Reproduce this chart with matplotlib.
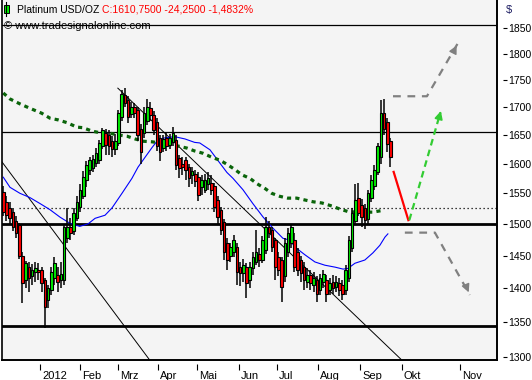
import matplotlib
matplotlib.use("Agg")
import matplotlib.pyplot as plt
from matplotlib.patches import Rectangle
from matplotlib.ticker import FixedLocator, FixedFormatter, NullLocator
import matplotlib.transforms as mtransforms

plt.rcParams['font.family'] = ['Liberation Sans', 'DejaVu Sans']

# daily candles, open/high/low/close
opens = [1553, 1535, 1525, 1520, 1505, 1498, 1450, 1412, 1432, 1418,
         1425, 1428, 1428, 1412, 1382, 1398, 1415, 1420, 1412, 1412,
         1478, 1495, 1488, 1510, 1528, 1545, 1572, 1590, 1592, 1602,
         1606, 1630, 1654, 1650, 1640, 1625, 1636, 1682, 1722, 1713,
         1688, 1700, 1695, 1660, 1654, 1675, 1698, 1686, 1673, 1645,
         1628, 1645, 1632, 1638, 1641, 1610, 1600, 1606, 1595, 1580,
         1582, 1578, 1560, 1556, 1565, 1568, 1563, 1539, 1523, 1503,
         1470, 1450, 1455, 1464, 1432, 1423, 1432, 1412, 1430, 1440,
         1452, 1443, 1459, 1495, 1490, 1474, 1448, 1443, 1418, 1455,
         1470, 1474, 1455, 1443, 1432, 1410, 1420, 1405, 1412, 1397,
         1410, 1412, 1397, 1410, 1402, 1408, 1405, 1397, 1415, 1462,
         1505, 1542, 1530, 1525, 1508, 1542, 1562, 1586, 1611, 1690,
         1673, 1640]
highs = [1562, 1545, 1535, 1525, 1512, 1502, 1455, 1442, 1440, 1437,
         1440, 1438, 1432, 1416, 1405, 1432, 1448, 1432, 1440, 1500,
         1525, 1510, 1525, 1545, 1565, 1588, 1605, 1612, 1615, 1628,
         1641, 1662, 1660, 1658, 1648, 1652, 1695, 1731, 1735, 1720,
         1710, 1708, 1700, 1670, 1700, 1715, 1710, 1693, 1680, 1650,
         1650, 1655, 1652, 1665, 1650, 1615, 1612, 1612, 1600, 1595,
         1590, 1585, 1580, 1582, 1585, 1580, 1568, 1545, 1528, 1508,
         1478, 1470, 1482, 1470, 1440, 1445, 1438, 1440, 1455, 1490,
         1462, 1480, 1511, 1505, 1495, 1478, 1455, 1448, 1478, 1493,
         1500, 1485, 1462, 1450, 1440, 1430, 1428, 1425, 1418, 1422,
         1428, 1420, 1415, 1420, 1418, 1415, 1412, 1435, 1480, 1525,
         1565, 1567, 1540, 1532, 1556, 1580, 1597, 1636, 1713, 1715,
         1680, 1645]
lows = [1512, 1505, 1500, 1488, 1478, 1445, 1378, 1400, 1395, 1405,
        1410, 1412, 1395, 1341, 1370, 1390, 1405, 1395, 1400, 1405,
        1470, 1475, 1482, 1505, 1520, 1540, 1560, 1580, 1585, 1595,
        1600, 1625, 1615, 1615, 1612, 1615, 1630, 1675, 1700, 1671,
        1680, 1680, 1640, 1600, 1645, 1668, 1675, 1650, 1622, 1605,
        1620, 1622, 1625, 1630, 1589, 1575, 1580, 1572, 1560, 1565,
        1560, 1538, 1548, 1550, 1555, 1548, 1520, 1500, 1482, 1443,
        1428, 1440, 1448, 1405, 1403, 1410, 1385, 1400, 1420, 1435,
        1432, 1438, 1452, 1478, 1455, 1412, 1418, 1379, 1410, 1448,
        1462, 1425, 1418, 1410, 1397, 1400, 1398, 1395, 1379, 1390,
        1400, 1379, 1390, 1392, 1395, 1388, 1382, 1390, 1410, 1455,
        1500, 1512, 1495, 1492, 1500, 1535, 1556, 1580, 1600, 1650,
        1620, 1595]
closes = [1520, 1515, 1510, 1495, 1485, 1450, 1408, 1438, 1415, 1428,
          1430, 1425, 1408, 1372, 1400, 1425, 1438, 1410, 1422, 1495,
          1495, 1485, 1518, 1535, 1556, 1577, 1597, 1606, 1608, 1618,
          1636, 1659, 1632, 1630, 1625, 1640, 1690, 1725, 1708, 1682,
          1700, 1690, 1650, 1620, 1690, 1700, 1685, 1659, 1630, 1620,
          1643, 1630, 1645, 1654, 1597, 1592, 1595, 1589, 1575, 1588,
          1570, 1547, 1572, 1572, 1575, 1556, 1527, 1511, 1490, 1455,
          1443, 1464, 1474, 1424, 1423, 1435, 1408, 1432, 1448, 1455,
          1443, 1474, 1495, 1485, 1464, 1432, 1428, 1402, 1470, 1485,
          1495, 1432, 1428, 1423, 1412, 1420, 1408, 1415, 1392, 1416,
          1422, 1392, 1408, 1400, 1410, 1398, 1392, 1428, 1474, 1518,
          1539, 1518, 1511, 1506, 1550, 1572, 1589, 1630, 1690, 1660,
          1635, 1610.75]

# moving averages (bar index, price)
ma50_x = [0, 2.1, 5.2, 8.3, 11.5, 14.6, 17.7, 20.8, 23.9, 26.5, 28.7, 31.8,
          34.0, 37.1, 40.2, 42.1, 44.3, 46.5, 48.3, 50.5, 53.6, 56.8, 59.8,
          61.4, 64.6, 67.7, 69.9, 71.8, 74.9, 78.0, 81.2, 84.3, 87.4, 89.6,
          91.2, 94.3, 97.4, 100.5, 103.7, 106.2, 107.7, 109.9, 113.0, 115.5,
          117.7, 119.3, 120.2]
ma50_y = [1577, 1560, 1550, 1543, 1533, 1523, 1511, 1501, 1496, 1500, 1509,
          1514, 1526, 1550, 1575, 1594, 1611, 1628, 1641, 1645, 1647, 1643,
          1637, 1636, 1624, 1601, 1585, 1575, 1556, 1533, 1511, 1493, 1477,
          1474, 1463, 1451, 1440, 1435, 1432, 1429, 1430, 1438, 1443, 1454,
          1466, 1479, 1484]
ma200_x = [0, 2.1, 5.2, 8.3, 12.0, 14.6, 17.1, 19.9, 23.0, 24.9, 27.7, 30.2,
           32.7, 35.8, 38.6, 41.2, 43.7, 46.5, 48.9, 51.5, 54.3, 57.4, 59.8,
           62.4, 65.2, 67.7, 69.9, 72.4, 74.6, 77.1, 79.3, 81.8, 83.9, 86.4,
           88.9, 91.7, 94.2, 96.8, 99.6, 102.7, 105.2, 107.7, 110.5, 113.0,
           115.5, 118.7]
ma200_y = [1726, 1715, 1706, 1698, 1689, 1680, 1677, 1672, 1664, 1663, 1657,
           1654, 1654, 1650, 1648, 1643, 1639, 1638, 1636, 1634, 1631, 1627,
           1622, 1618, 1611, 1606, 1599, 1590, 1581, 1575, 1566, 1558, 1550,
           1545, 1542, 1542, 1539, 1536, 1534, 1529, 1524, 1520, 1519, 1519,
           1519, 1522]

# drawn lines
hlines_thin = [1857, 1655]
hlines_thick = [1500, 1345]
dotted_level = 1525
trend_a = ([-0.4, 45.8], [1603, 1296])
trend_b = ([35.8, 124.6], [1735, 1296])
red_leg = ([122, 126.6], [1586, 1506])
green_leg = ([126.9, 137.0], [1506, 1698])
gray_up = ([121.8, 132.4, 142.1], [1720, 1720, 1821])
gray_down = ([125.5, 134.9, 145.8], [1486, 1486, 1390])

month_pos = [11.5, 24.0, 35.8, 48.3, 60.5, 73.6, 85.5, 98.3, 111.5, 124.6, 142.7]
month_lbl = ['2012', 'Feb', 'Mrz', 'Apr', 'Mai', 'Jun', 'Jul', 'Aug', 'Sep', 'Okt', 'Nov']
price_ticks = list(range(1300, 1851, 50))

fig = plt.figure(figsize=(5.32, 3.80), dpi=100)
ax = fig.add_axes([2 / 532, 20 / 380, 495 / 532, 360 / 380])
ax.set_facecolor('#f4f4f4')
ax.set_yscale('log')
ax.set_xlim(-0.4, 154.3)
ax.set_ylim(1296.3, 1907)

for p in hlines_thin:
    ax.axhline(p, color='black', lw=0.9, zorder=1)
for p in hlines_thick:
    ax.axhline(p, color='black', lw=2.0, zorder=1)
ax.plot([5, 154.3], [dotted_level, dotted_level], color='black', lw=0.9,
        ls=(0, (1, 2.2)), zorder=1)
ax.plot(*trend_a, color='black', lw=0.7, zorder=1)
ax.plot(*trend_b, color='black', lw=0.7, zorder=1)

ax.plot(ma50_x, ma50_y, color='#0000ff', lw=0.8, zorder=2)
ax.plot(ma200_x, ma200_y, color='#0a640a', lw=2.3, ls=(0, (1.3, 1.3)),
        dash_capstyle='butt', zorder=2)

# candles
xs = list(range(len(closes)))
ax.vlines(xs, lows, highs, color='black', lw=1.1, zorder=3)
for i in xs:
    o, c = opens[i], closes[i]
    col = '#00ee00' if c >= o else '#ff0000'
    ax.add_patch(Rectangle((i - 0.42, min(o, c)), 0.84, abs(c - o),
                           facecolor=col, edgecolor='black', lw=0.8, zorder=4))

# projection
ax.plot(*red_leg, color='#ff0000', lw=1.6, zorder=5)
ax.plot(green_leg[0][:1] + [green_leg[0][1] - 0.4], green_leg[1][:1] + [green_leg[1][1] - 8],
        color='#33cc33', lw=1.6, ls=(0, (3, 2)), zorder=5)
ax.annotate('', xy=(green_leg[0][1], green_leg[1][1]),
            xytext=(green_leg[0][1] - 1.2, green_leg[1][1] - 25),
            arrowprops=dict(arrowstyle='-|>', color='#33cc33', lw=1.2,
                            mutation_scale=12), zorder=5)
for path in (gray_up, gray_down):
    ax.plot(path[0], path[1], color='#808080', lw=1.6, ls=(0, (3.5, 3)), zorder=5)
    ax.annotate('', xy=(path[0][2], path[1][2]),
                xytext=(path[0][2] - 1.5, path[1][2] - (path[1][2] - path[1][1]) * 0.18),
                arrowprops=dict(arrowstyle='-|>', color='#808080', lw=1.0,
                                mutation_scale=12), zorder=5)

# axes styling
for s in ('top', 'right', 'bottom'):
    ax.spines[s].set_visible(False)
ax.spines['left'].set_linewidth(1.2)
ax.spines['right'].set_position(('outward', 4))
ax.spines['bottom'].set_position(('outward', 3))
ax.plot([1, 1], [0, 1], transform=ax.transAxes, color='black', lw=1.4, clip_on=False, zorder=6)
ax.plot([0, 1], [0, 0], transform=ax.transAxes, color='black', lw=1.4, clip_on=False, zorder=6)

ax.yaxis.tick_right()
ax.yaxis.set_major_locator(FixedLocator(price_ticks))
ax.yaxis.set_major_formatter(FixedFormatter([str(t) for t in price_ticks]))
ax.yaxis.set_minor_locator(NullLocator())
ax.tick_params(axis='y', direction='out', length=3, width=0.8, pad=1, labelsize=7.5)
ax.set_xticks(month_pos)
ax.set_xticklabels(month_lbl)
ax.tick_params(axis='x', direction='out', length=4, width=0.8, pad=1, labelsize=8)
offset = mtransforms.ScaledTranslation(2 / 100, 0, fig.dpi_scale_trans)
for lbl in ax.get_xticklabels():
    lbl.set_ha('left')
    lbl.set_transform(lbl.get_transform() + offset)

# header
fig.text(506 / 532, 1 - 10 / 380, '$', fontsize=8, color='#1a1a60', va='center')
fig.add_artist(plt.Line2D([6 / 532, 6 / 532], [1 - 2 / 380, 1 - 16 / 380], color='black', lw=0.8))
fig.add_artist(Rectangle((4 / 532, 1 - 13 / 380), 4.5 / 532, 8 / 380, facecolor='#00ee00',
                         edgecolor='black', lw=0.7, transform=fig.transFigure))
name = fig.text(17 / 532, 1 - 10 / 380, 'Platinum USD/OZ', fontsize=7.5, color='black', va='center')
renderer = fig.canvas.get_renderer()
name_end = name.get_window_extent(renderer).x1
fig.text((name_end + 3) / 532, 1 - 10 / 380, 'C:1610,7500 -24,2500 -1,4832%', fontsize=7.5,
         color='#ff0000', va='center')
fig.text(4 / 532, 1 - 26 / 380, '\u00a9 www.tradesignalonline.com', fontsize=8,
         color='black', va='center')

fig.savefig('out.png', dpi=100)
